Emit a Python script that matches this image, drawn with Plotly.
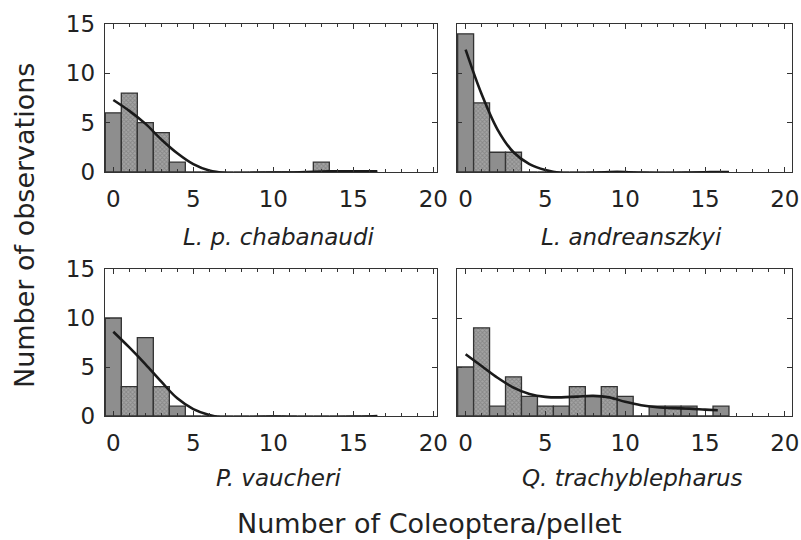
import plotly.graph_objects as go

W, H = 801, 540

# ---- data ----
bins = list(range(17))
species = ["L. p. chabanaudi", "L. andreanszkyi", "P. vaucheri", "Q. trachyblepharus"]
counts_chabanaudi = [6, 8, 5, 4, 1, 0, 0, 0, 0, 0, 0, 0, 0, 1, 0, 0, 0]
counts_andreanszkyi = [14, 7, 2, 2, 0, 0, 0, 0, 0, 0, 0, 0, 0, 0, 0, 0, 0]
counts_vaucheri = [10, 3, 8, 3, 1, 0, 0, 0, 0, 0, 0, 0, 0, 0, 0, 0, 0]
counts_trachy = [5, 9, 1, 4, 2, 1, 1, 3, 2, 3, 2, 0, 1, 1, 1, 0, 1]

fit_x = [0, 1, 2, 3, 4, 5, 6, 7, 8, 9, 10, 11, 12, 13, 14, 15, 16, 16.5]
fit_chabanaudi = [7.3, 6.2, 4.9, 3.3, 1.9, 0.8, 0.15, -0.1, -0.15, -0.08, -0.05, -0.05, 0.0, 0.05, 0.08, 0.08, 0.08, 0.08]
fit_andreanszkyi = [12.4, 7.9, 4.3, 2.0, 0.8, 0.2, -0.1, -0.15, -0.08, 0.0, 0.0, -0.08, -0.12, -0.12, -0.08, -0.03, 0.0, 0.0]
fit_vaucheri = [8.6, 7.0, 5.3, 3.5, 1.8, 0.7, 0.1, -0.2, -0.25, -0.1, -0.05, -0.1, -0.15, -0.15, -0.12, -0.08, -0.05, 0.0]
fit_x_trachy = [0, 1, 2, 3, 4, 5, 6, 7, 8, 9, 10, 11, 12, 13, 14, 15, 15.8]
fit_trachy = [6.3, 5.1, 3.9, 2.9, 2.25, 1.95, 1.9, 1.98, 2.05, 1.9, 1.45, 1.1, 0.9, 0.8, 0.75, 0.65, 0.58]

x_ticks = [0, 5, 10, 15, 20]
y_ticks = [0, 5, 10, 15]
x_title = "Number of Coleoptera/pellet"
y_title = "Number of observations"

panels = [
    (counts_chabanaudi, fit_x, fit_chabanaudi),
    (counts_andreanszkyi, fit_x, fit_andreanszkyi),
    (counts_vaucheri, fit_x, fit_vaucheri),
    (counts_trachy, fit_x_trachy, fit_trachy),
]

# ---- layout geometry (pixels) ----
px_x = [(105, 437), (457, 792), (105, 437), (457, 792)]
px_y = [(24, 172), (24, 172), (269, 416), (269, 416)]
xranges = [[-0.52, 20.23], [-0.54, 20.45], [-0.52, 20.23], [-0.54, 20.45]]
label_pos = [(279, 237), (631, 237), (278, 478), (632, 478)]

FONT = "DejaVu Sans"
fig = go.Figure()

for i, (counts, fx, fy) in enumerate(panels):
    xa = "x" if i == 0 else f"x{i+1}"
    ya = "y" if i == 0 else f"y{i+1}"
    shapes = ["" if b % 2 == 0 else "x" for b in bins]
    fig.add_trace(go.Bar(
        x=bins, y=counts, width=1.0, xaxis=xa, yaxis=ya,
        marker=dict(color="#8e8e8e", line=dict(color="#333333", width=1.3),
                    pattern=dict(shape=shapes, fgcolor="#6a6a6a", bgcolor="#a4a4a4",
                                 size=3, solidity=0.5)),
        showlegend=False))
    fig.add_trace(go.Scatter(
        x=fx, y=fy, mode="lines", xaxis=xa, yaxis=ya,
        line=dict(color="#1a1a1a", width=2.6, shape="spline", smoothing=1.0),
        showlegend=False))

axis_common = dict(showline=True, linecolor="#333333", linewidth=1.3, mirror="ticks",
                   ticks="inside", ticklen=5, tickcolor="#333333", tickwidth=1,
                   showgrid=False, zeroline=False, automargin=False,
                   tickfont=dict(family=FONT, size=23, color="#222222"))

for i in range(4):
    sx = "" if i == 0 else str(i + 1)
    x0, x1 = px_x[i]
    y0, y1 = px_y[i]
    fig.update_layout(**{
        f"xaxis{sx}": dict(axis_common, domain=[x0 / W, x1 / W], range=xranges[i],
                           tickvals=x_ticks, anchor=f"y{sx}", ticklabelstandoff=6,
                           minor=dict(dtick=1, ticks="inside", ticklen=3, tickcolor="#333333")),
        f"yaxis{sx}": dict(axis_common, domain=[1 - y1 / H, 1 - y0 / H], range=[0, 15],
                           tickvals=y_ticks, anchor=f"x{sx}", showticklabels=(i % 2 == 0),
                           ticklabelstandoff=4),
    })

annotations = []
for (lx, ly), name in zip(label_pos, species):
    annotations.append(dict(text=f"<i>{name}</i>", x=lx / W, y=1 - ly / H, xref="paper", yref="paper",
                            showarrow=False, xanchor="center", yanchor="middle",
                            font=dict(family=FONT, size=23, color="#222222")))
annotations.append(dict(text=x_title, x=429 / W, y=1 - 523 / H, xref="paper", yref="paper",
                        showarrow=False, xanchor="center", yanchor="middle",
                        font=dict(family=FONT, size=27, color="#222222")))
annotations.append(dict(text=y_title, x=24 / W, y=1 - 226 / H, xref="paper", yref="paper",
                        showarrow=False, xanchor="center", yanchor="middle", textangle=-90,
                        font=dict(family=FONT, size=27, color="#222222")))

fig.update_layout(width=W, height=H, margin=dict(l=0, r=0, t=0, b=0),
                  paper_bgcolor="white", plot_bgcolor="white", bargap=0,
                  annotations=annotations)

fig.write_html("out.html", config={"displayModeBar": False, "staticPlot": True},
               post_script="document.body.style.margin='0';document.body.style.overflow='hidden';")
